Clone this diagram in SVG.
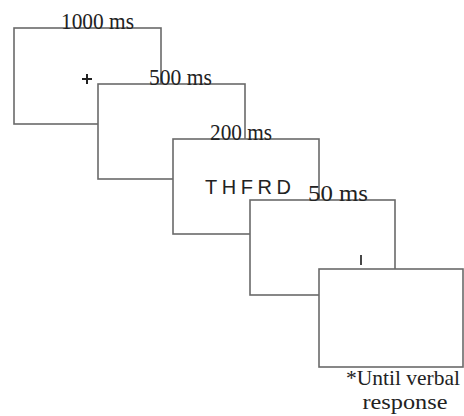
<svg xmlns="http://www.w3.org/2000/svg" width="464" height="416" viewBox="0 0 464 416">
<style>
.box{fill:#fff;stroke:#6a6a6a;stroke-width:1.6}
.t{font-family:"Liberation Serif",serif;font-size:24px;fill:#222}
.n{font-family:"Liberation Serif",serif;font-size:21px;fill:#222}
.s{font-family:"Liberation Sans",sans-serif;font-size:20px;fill:#222}
</style>
<rect width="464" height="416" fill="#fff"/>
<g id="screen1"><rect class="box" x="14" y="28" width="147" height="96"/></g>
<g id="screen2"><rect class="box" x="98" y="84" width="147" height="95"/></g>
<g id="screen3"><rect class="box" x="173" y="139" width="146" height="95"/></g>
<g id="screen4"><rect class="box" x="250" y="200" width="145" height="95"/></g>
<g id="screen5"><rect class="box" x="319" y="269" width="144" height="98"/></g>
<g id="connectors"></g>
<g id="labels">
<text class="t" x="61" y="29" textLength="73" lengthAdjust="spacingAndGlyphs">1000 ms</text>
<text class="t" x="149" y="85" textLength="63" lengthAdjust="spacingAndGlyphs">500 ms</text>
<text class="t" x="210" y="140" textLength="62" lengthAdjust="spacingAndGlyphs">200 ms</text>
<text class="t" x="308" y="201" textLength="60" lengthAdjust="spacingAndGlyphs">50 ms</text>
<path d="M82 79H92M87 74V84" stroke="#222" stroke-width="2"/>
<text class="s" x="205" y="194" textLength="86">THFRD</text>
<line x1="361" y1="255" x2="361" y2="265" stroke="#333" stroke-width="1.8"/>
<text class="n" x="346" y="385" textLength="114" lengthAdjust="spacingAndGlyphs">*Until verbal</text>
<text class="n" x="405" y="409" text-anchor="middle" textLength="85" lengthAdjust="spacingAndGlyphs">response</text>
</g>
</svg>
